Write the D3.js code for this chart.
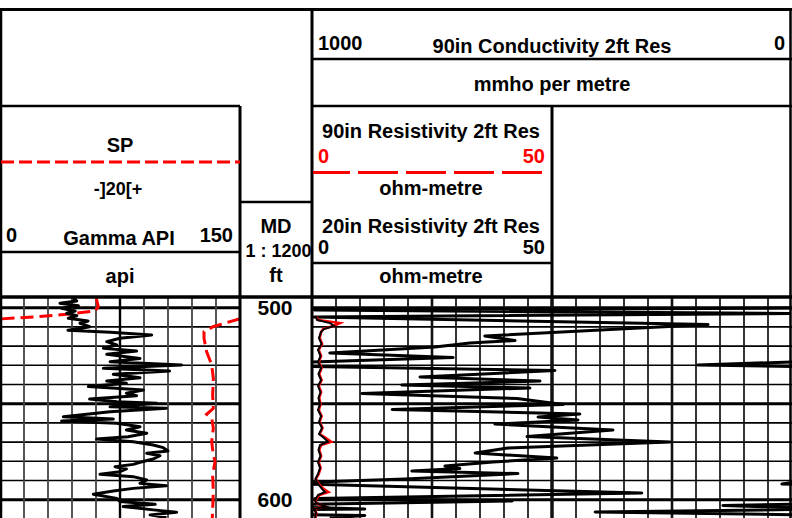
<!DOCTYPE html>
<html>
<head>
<meta charset="utf-8">
<script src="https://cdn.jsdelivr.net/npm/d3@7"></script>
<style>
  body { margin: 0; background: #fff; }
  svg { display: block; font-family: "Liberation Sans", Arial, sans-serif; font-weight: bold; }
</style>
</head>
<body>
<div id="chart"></div>
<script>
// Well log plot: gamma/SP track, depth track, resistivity + conductivity track.

// gamma ray (api) by depth (ft)
const gammaDepth = [495.1, 496.5, 497.7, 499.0, 500.3, 501.7, 502.9, 504.2, 505.5, 506.9, 508.1, 509.9, 510.7, 511.8,
  512.8, 514.2, 515.9, 517.7, 519.4, 521.1, 522.6, 524.3, 526.4, 528.1, 529.8, 531.6, 533.0, 534.7, 536.5, 538.2,
  539.4, 541.1, 542.9, 544.6, 545.8, 547.6, 549.0, 549.8, 551.6, 552.4, 554.2, 556.8, 558.0, 559.0, 560.2, 562.0,
  563.7, 565.4, 567.2, 568.4, 569.8, 571.5, 572.9, 574.6, 575.8, 577.1, 578.8, 580.5, 581.6, 582.8, 584.0, 585.4,
  586.8, 588.0, 589.7, 591.5, 592.7, 594.1, 595.5, 597.2, 599.3, 601.0, 602.4, 603.6, 605.3, 606.5, 607.9, 609.3];
const gammaApi = [45.8, 47.9, 37.5, 49.0, 38.5, 47.0, 41.7, 48.0, 42.7, 55.0, 50.0, 56.0, 51.0, 42.5,
  69.0, 94.8, 75.0, 66.7, 73.0, 64.6, 85.4, 66.7, 87.5, 68.8, 113.5, 64.6, 106.0, 70.8, 87.5, 66.7,
  79.0, 55.2, 89.6, 79.0, 85.4, 56.0, 73.0, 98.0, 68.8, 104.0, 68.8, 39.6, 70.8, 38.5, 73.0, 87.5,
  79.0, 91.7, 80.0, 60.4, 83.3, 95.8, 102.0, 105.0, 91.7, 100.0, 95.8, 87.5, 83.3, 71.9, 79.0, 75.0,
  62.5, 83.3, 91.7, 87.5, 104.0, 83.3, 70.8, 58.3, 73.0, 75.0, 97.0, 77.0, 95.8, 110.4, 93.8, 104.0];

// SP (mV), plotted with wrap-around on a -100..100 track
const spDepth = [495.0, 496.0, 499.5, 501.7, 503.4, 504.8, 505.9, 509.9, 512.5, 515.9, 522.9, 529.8, 536.8,
  545.5, 552.4, 555.5, 557.6, 562.8, 569.8, 576.7, 580.2, 587.1, 595.8, 609.6];
const spMv = [-19.5, -19.4, -18.1, -20.8, -44.4, -72.2, -100.8, -122.5, -130.0, -130.0, -127.8, -123.6, -122.2,
  -122.8, -122.2, -127.8, -123.6, -122.2, -123.6, -122.2, -120.8, -122.8, -122.2, -123.1];

// 90in and 20in resistivity (ohm-m)
const resDepth = [504.8, 506.4, 508.0, 509.5, 511.1, 512.7, 515.8, 518.9, 522.0, 525.2, 528.3, 531.4, 534.5,
  537.7, 540.8, 543.9, 547.0, 550.2, 553.3, 556.4, 559.5, 562.7, 565.8, 567.9, 569.8, 571.5, 574.1, 577.2,
  580.4, 583.5, 586.6, 589.2, 591.8, 594.4, 596.0, 597.6, 600.2, 601.7, 603.5, 604.8, 606.9, 609.6];
const res90 = [0.9, 1.3, 5.8, 4.4, 2.3, 1.9, 1.6, 2.1, 1.4, 1.9, 1.4, 2.0, 1.5,
  2.0, 1.4, 1.9, 1.5, 1.8, 1.4, 2.0, 1.6, 2.2, 1.6, 2.9, 4.0, 1.9, 1.5, 1.9,
  1.4, 1.8, 1.4, 0.8, 1.4, 2.4, 3.4, 1.5, 0.7, 0.9, 2.6, 0.5, 0.9, 0.7];
const res20 = [0.83, 1.04, 3.75, 4.58, 2.5, 1.88, 1.46, 1.98, 1.25, 1.77, 1.25, 1.88, 1.35,
  1.88, 1.25, 1.77, 1.35, 1.67, 1.25, 1.88, 1.46, 2.08, 1.46, 2.5, 3.33, 1.67, 1.35, 1.77,
  1.25, 1.67, 1.25, 0.73, 1.25, 2.08, 2.71, 1.25, 0.63, 0.83, 2.92, 0.42, 0.83, 0.63];

// 90in conductivity (mmho/m), wraps past 1000
const condDepth = [500.2, 501.2, 503.0, 504.8, 508.8, 514.7, 517.1, 518.4, 520.5, 523.6, 525.9, 529.8, 532.7,
  536.1, 538.2, 540.3, 541.8, 544.7, 547.3, 550.4, 553.0, 555.4, 556.9, 558.5, 560.6, 563.7, 567.1, 569.9,
  573.1, 575.7, 578.3, 580.4, 582.5, 583.8, 585.1, 586.4, 589.2, 590.8, 591.8, 596.5, 599.4, 600.7, 603.0,
  604.8, 606.4, 608.2, 609.6];
const condMmho = [0, 995, 5, 996, 175, 640, 577, 671, 744, 963, 706, 1196, 494,
  775, 525, 813, 546, 896, 573, 477, 833, 442, 529, 446, 619, 373, 552, 254,
  592, 660, 490, 623, 723, 692, 792, 571, 806, 992, 1021, 313, 994, 583, 1144,
  890, 1410, 890, 963];

const depthLabels = [500, 600];

const W = 792, H = 518;
const PLOT_TOP = 297;
const LEFT = [0, 240], DEPTH = [240, 312], RIGHT = [312, 792];

const svg = d3.select('#chart').append('svg').attr('width', W).attr('height', H);

const y = d3.scaleLinear().domain([500, 600]).range([307.7, 499.7]);
const xGamma = d3.scaleLinear().domain([0, 150]).range(LEFT);
const xSp = d3.scaleLinear().domain([-100, 100]).range(LEFT);
const xRes = d3.scaleLinear().domain([0, 50]).range([312, 552]);
const xCond = d3.scaleLinear().domain([1000, 0]).range(RIGHT);

// split a series into pieces that wrap inside [lo, hi]
function wrapSegs(ds, vs, lo, hi) {
  const span = hi - lo;
  const band = v => Math.floor((v - lo) / span);
  const segs = [];
  let cur = [{ d: ds[0], v: vs[0] - band(vs[0]) * span }];
  for (let i = 1; i < ds.length; i++) {
    const b0 = band(vs[i - 1]), b1 = band(vs[i]);
    const step = b1 > b0 ? 1 : -1;
    for (let b = b0; b !== b1; b += step) {
      const edge = lo + (step > 0 ? b + 1 : b) * span;
      const t = (edge - vs[i - 1]) / (vs[i] - vs[i - 1]);
      const d = ds[i - 1] + t * (ds[i] - ds[i - 1]);
      cur.push({ d, v: step > 0 ? hi : lo });
      segs.push(cur);
      cur = [{ d, v: step > 0 ? lo : hi }];
    }
    cur.push({ d: ds[i], v: vs[i] - b1 * span });
  }
  segs.push(cur);
  return segs;
}

const defs = svg.append('defs');
defs.append('clipPath').attr('id', 'clipL').append('rect')
  .attr('x', LEFT[0]).attr('y', PLOT_TOP).attr('width', LEFT[1] - LEFT[0]).attr('height', H - PLOT_TOP);
defs.append('clipPath').attr('id', 'clipR').append('rect')
  .attr('x', RIGHT[0]).attr('y', PLOT_TOP).attr('width', RIGHT[1] - RIGHT[0]).attr('height', H - PLOT_TOP);

// ---- grid
const grid = svg.append('g');
const dTop = y.invert(PLOT_TOP), dBot = y.invert(H);
const depthTicks = d3.range(490, 620, 10).filter(d => d > dTop && d < dBot);
[LEFT, RIGHT].forEach(tr => {
  grid.selectAll(null).data(depthTicks).join('line')
    .attr('x1', tr[0]).attr('x2', tr[1])
    .attr('y1', d => y(d)).attr('y2', d => y(d))
    .attr('stroke', '#000').attr('stroke-width', d => d % 50 === 0 ? 3 : 1.6);
});
grid.selectAll(null).data(d3.range(15, 150, 15)).join('line')
  .attr('x1', d => xGamma(d)).attr('x2', d => xGamma(d))
  .attr('y1', PLOT_TOP).attr('y2', H)
  .attr('stroke', d => d === 75 ? '#000' : '#444').attr('stroke-width', d => d === 75 ? 2.4 : 1.8);
grid.selectAll(null).data(d3.range(50, 1000, 50)).join('line')
  .attr('x1', d => xCond(d)).attr('x2', d => xCond(d))
  .attr('y1', PLOT_TOP).attr('y2', H)
  .attr('stroke', '#111')
  .attr('stroke-width', d => d === 500 ? 3.5 : (d === 250 || d === 750) ? 2.6 : 1.7);

// ---- left track curves
const lineL = d3.line().x(d => d.x).y(d => y(d.d));
const gL = svg.append('g').attr('clip-path', 'url(#clipL)');
gL.selectAll('path.sp').data(wrapSegs(spDepth, spMv, -100, 100)).join('path')
  .attr('class', 'sp')
  .attr('d', s => lineL(s.map(p => ({ d: p.d, x: xSp(p.v) }))))
  .attr('fill', 'none').attr('stroke', '#ff0000').attr('stroke-width', 3)
  .attr('stroke-dasharray', '13 6');
gL.append('path')
  .attr('d', lineL(gammaDepth.map((d, i) => ({ d, x: xGamma(gammaApi[i]) }))))
  .attr('fill', 'none').attr('stroke', '#000').attr('stroke-width', 3).attr('stroke-linejoin', 'round');

// ---- right track curves
const gR = svg.append('g').attr('clip-path', 'url(#clipR)');
gR.selectAll('path.cond').data(wrapSegs(condDepth, condMmho, 0, 1000)).join('path')
  .attr('class', 'cond')
  .attr('d', s => lineL(s.map(p => ({ d: p.d, x: xCond(p.v) }))))
  .attr('fill', 'none').attr('stroke', '#000').attr('stroke-width', 3).attr('stroke-linejoin', 'round');
gR.append('path')
  .attr('d', lineL(resDepth.map((d, i) => ({ d, x: xRes(res90[i]) }))))
  .attr('fill', 'none').attr('stroke', '#ff0000').attr('stroke-width', 2.6);
gR.append('path')
  .attr('d', lineL(resDepth.map((d, i) => ({ d, x: xRes(res20[i]) }))))
  .attr('fill', 'none').attr('stroke', '#000').attr('stroke-width', 2);

// ---- depth labels
svg.append('g').selectAll('text').data(depthLabels).join('text')
  .attr('x', (DEPTH[0] + DEPTH[1]) / 2 - 1).attr('y', d => y(d) + 7.5)
  .attr('text-anchor', 'middle').attr('font-size', 21).text(d => d);

// ---- header frame
const frame = svg.append('g').attr('stroke', '#000').attr('fill', 'none');
const seg = (x1, y1, x2, y2, w) => frame.append('line')
  .attr('x1', x1).attr('y1', y1).attr('x2', x2).attr('y2', y2).attr('stroke-width', w);
seg(0, 9.5, W, 9.5, 3);
seg(1, 9.5, 1, H, 2.5);
seg(790.5, 9.5, 790.5, H, 2.5);
seg(312, 9.5, 312, H, 3);
seg(312, 59, W, 59, 2.5);
seg(0, 106, 240, 106, 2.5);
seg(312, 106, W, 106, 2.5);
seg(240, 106, 240, H, 3);
seg(240, 202, 312, 202, 2.5);
seg(0, 252, 240, 252, 2.5);
seg(552, 106, 552, PLOT_TOP, 3);
seg(312, 263, 552, 263, 2.5);
seg(0, PLOT_TOP, W, PLOT_TOP, 3.5);

// dashed curve keys in header
svg.append('line').attr('x1', 1).attr('x2', 240).attr('y1', 162).attr('y2', 162)
  .attr('stroke', '#ff0000').attr('stroke-width', 3).attr('stroke-dasharray', '13 5');
svg.append('line').attr('x1', 313).attr('x2', 545).attr('y1', 172.5).attr('y2', 172.5)
  .attr('stroke', '#ff0000').attr('stroke-width', 3).attr('stroke-dasharray', '40 8').attr('stroke-dashoffset', 3);

// ---- header text
const txt = (s, x, yy, anchor = 'middle', size = 20, color = '#000') => svg.append('text')
  .attr('x', x).attr('y', yy).attr('text-anchor', anchor)
  .attr('font-size', size).attr('fill', color).text(s);
txt('1000', 318, 50, 'start');
txt('90in Conductivity 2ft Res', 552, 53);
txt('0', 785, 50, 'end');
txt('mmho per metre', 552, 90.5);
txt('SP', 120, 151.5);
txt('-]20[+', 118, 195, 'middle', 18);
txt('0', 6, 242, 'start');
txt('Gamma API', 119, 245);
txt('150', 233, 242, 'end');
txt('api', 120, 283);
txt('MD', 276, 233);
txt('1 : 1200', 278.5, 256.5, 'middle', 18);
txt('ft', 276, 282);
txt('90in Resistivity 2ft Res', 431, 138);
txt('0', 318, 162.5, 'start', 20, '#ff0000');
txt('50', 545, 162.5, 'end', 20, '#ff0000');
txt('ohm-metre', 431, 194.5);
txt('20in Resistivity 2ft Res', 431, 233);
txt('0', 318, 254, 'start');
txt('50', 545, 253.5, 'end');
txt('ohm-metre', 431, 283);
</script>
</body>
</html>
